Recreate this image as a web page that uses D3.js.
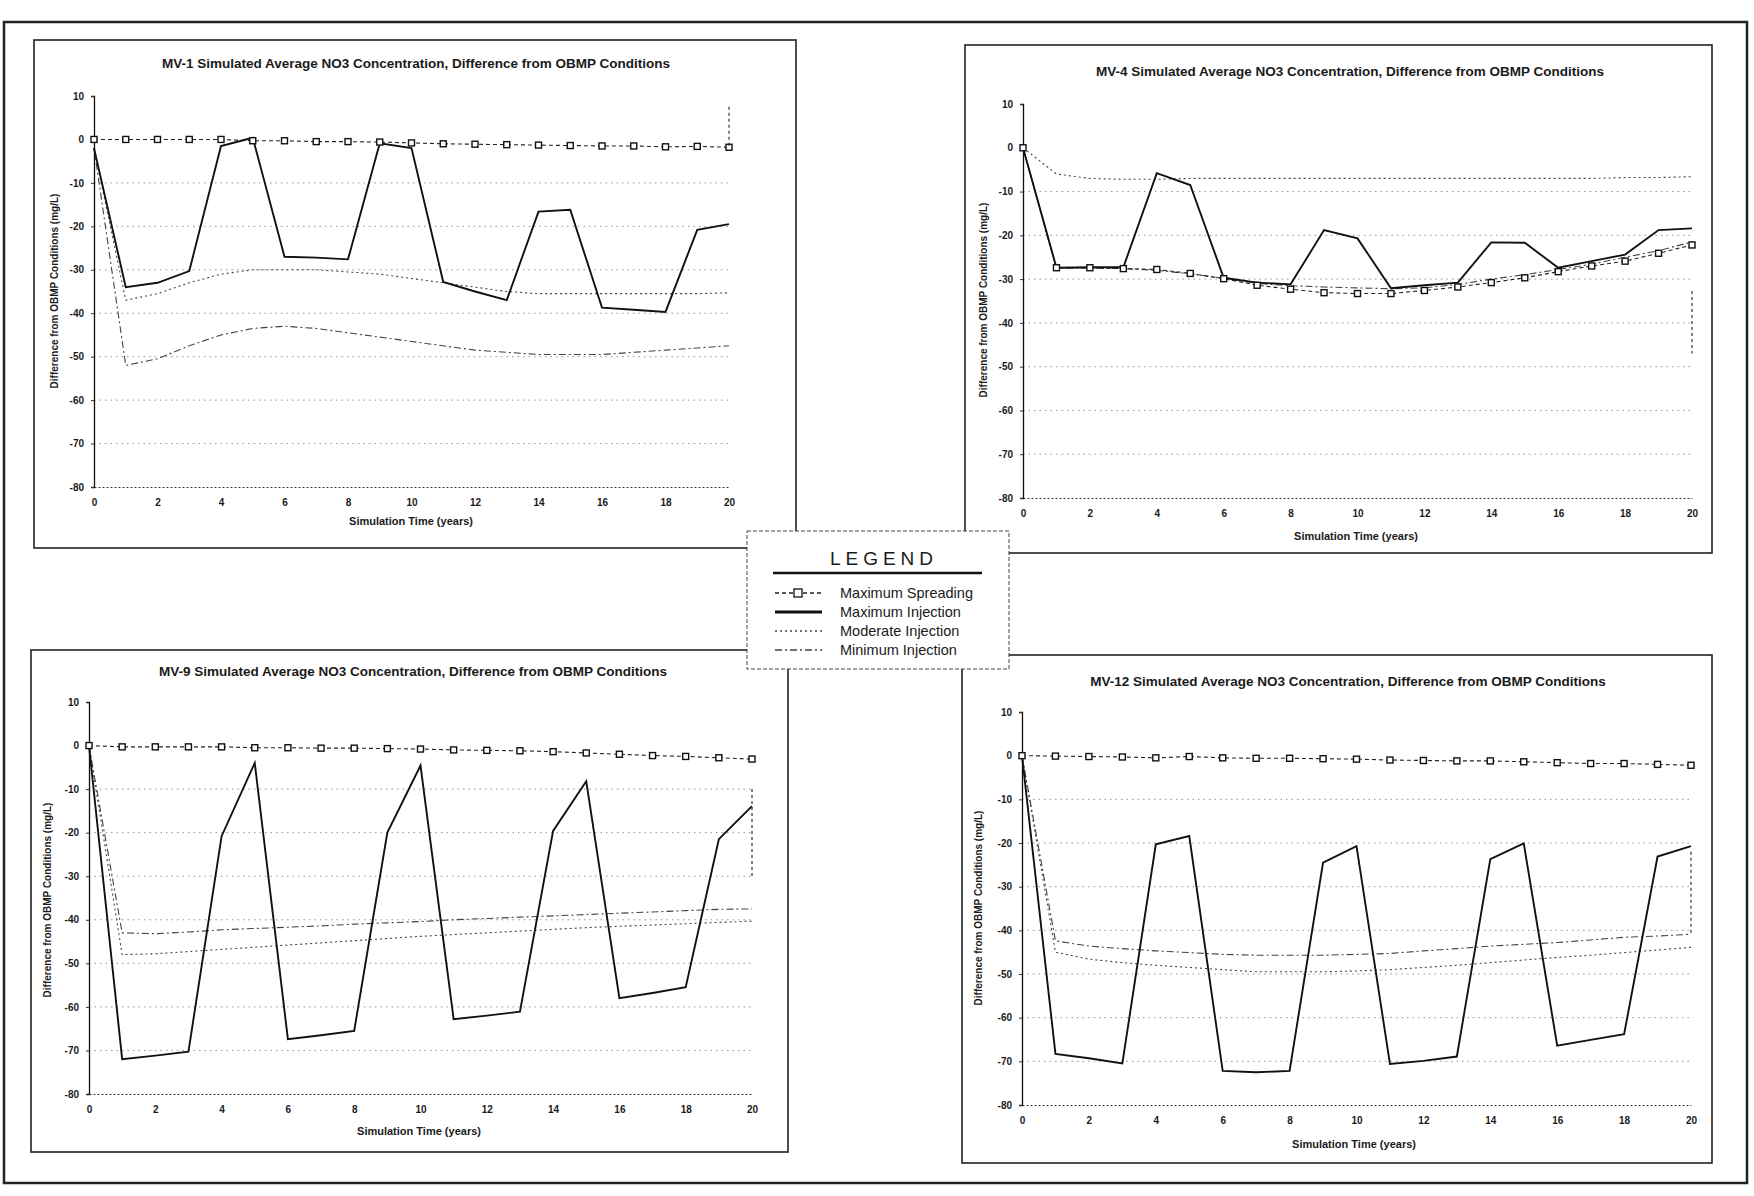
<!DOCTYPE html>
<html>
<head>
<meta charset="utf-8">
<script src="https://cdn.jsdelivr.net/npm/d3@7"></script>
<style>
  body { margin: 0; background: #fff; }
  text { font-family: "Liberation Sans", Arial, sans-serif; fill: #1a1a1a; }
</style>
</head>
<body>
<div class="svg"></div>
<script>
// simulation years and axis ticks
var years = [0, 1, 2, 3, 4, 5, 6, 7, 8, 9, 10, 11, 12, 13, 14, 15, 16, 17, 18, 19, 20];
var xTicks = [0, 2, 4, 6, 8, 10, 12, 14, 16, 18, 20];
var yTicks = [10, 0, -10, -20, -30, -40, -50, -60, -70, -80];
var gridValues = [-10, -20, -30, -40, -50, -60, -70];

var seriesNames = ['Maximum Spreading', 'Maximum Injection', 'Moderate Injection', 'Minimum Injection'];

// MV-1
var mv1Spreading = [0, 0, 0, 0, 0, -0.3, -0.3, -0.5, -0.5, -0.6, -0.8, -1.0, -1.1, -1.2, -1.3, -1.4, -1.5, -1.5, -1.7, -1.6, -1.8];
var mv1MaxInj = [-2, -34, -33, -30.3, -1.5, 0.4, -27, -27.2, -27.6, -0.9, -2, -32.8, -35, -37, -16.6, -16.2, -38.7, -39.2, -39.7, -20.8, -19.5];
var mv1ModInj = [-2, -37, -35.5, -33, -31, -30, -30, -30, -30.5, -31, -32, -33, -34, -35, -35.5, -35.5, -35.5, -35.5, -35.5, -35.5, -35.3];
var mv1MinInj = [-2, -52, -50.5, -47.5, -45, -43.5, -43, -43.5, -44.5, -45.5, -46.5, -47.5, -48.5, -49, -49.5, -49.5, -49.5, -49, -48.5, -48, -47.5];
var mv1EndBar = [7.5, -2];

// MV-4
var mv4Spreading = [0, -27.4, -27.4, -27.6, -27.8, -28.7, -29.9, -31.4, -32.3, -33.1, -33.3, -33.3, -32.6, -31.8, -30.8, -29.7, -28.3, -27, -25.9, -24.1, -22.2];
var mv4MaxInj = [0, -27.4, -27.3, -27.3, -5.8, -8.5, -29.7, -30.8, -31.2, -18.8, -20.7, -32.1, -31.4, -30.8, -21.6, -21.7, -27.4, -25.9, -24.4, -18.8, -18.4];
var mv4ModInj = [0, -6, -7, -7.2, -7.2, -7, -7, -7, -7, -7, -7, -7, -7, -7, -7, -7, -7, -7, -6.8, -6.8, -6.6];
var mv4MinInj = [0, -27.5, -27.5, -27.6, -28, -28.8, -29.8, -31, -31.5, -31.8, -32, -32.2, -32, -31.2, -30, -29, -27.8, -26.6, -25, -23.5, -21.5];
var mv4EndBar = [-32.7, -47];

// MV-9
var mv9Spreading = [0, -0.3, -0.3, -0.3, -0.3, -0.5, -0.5, -0.6, -0.6, -0.7, -0.8, -1.0, -1.1, -1.2, -1.4, -1.7, -2.0, -2.3, -2.5, -2.8, -3.1];
var mv9MaxInj = [0, -72, -71.2, -70.3, -20.8, -4, -67.4, -66.5, -65.5, -20, -4.6, -62.8, -62, -61.1, -19.6, -8.2, -58, -56.8, -55.5, -21.5, -13.9];
var mv9ModInj = [0, -48, -47.8, -47.3, -46.8, -46.3, -45.8, -45.3, -44.8, -44.3, -43.8, -43.4, -43, -42.6, -42.2, -41.8, -41.5, -41.2, -40.9, -40.6, -40.3];
var mv9MinInj = [0, -43, -43.2, -42.8, -42.3, -42, -41.7, -41.4, -41, -40.7, -40.4, -40, -39.7, -39.4, -39.1, -38.8, -38.5, -38.2, -37.9, -37.6, -37.5];
var mv9EndBar = [-10, -30];

// MV-12
var mv12Spreading = [0, -0.1, -0.2, -0.3, -0.5, -0.2, -0.5, -0.6, -0.6, -0.7, -0.8, -1.0, -1.1, -1.2, -1.2, -1.4, -1.6, -1.8, -1.8, -2.0, -2.2];
var mv12MaxInj = [0, -68.3, -69.3, -70.5, -20.3, -18.4, -72.2, -72.5, -72.2, -24.5, -20.7, -70.6, -69.9, -68.9, -23.7, -20.1, -66.4, -65.1, -63.8, -23.1, -20.7];
var mv12ModInj = [0, -45, -46.6, -47.4, -48, -48.5, -49, -49.5, -49.5, -49.5, -49.3, -49, -48.5, -48, -47.4, -46.8, -46.2, -45.7, -45.1, -44.5, -43.9];
var mv12MinInj = [0, -42.4, -43.6, -44.2, -44.7, -45.1, -45.5, -45.7, -45.7, -45.7, -45.5, -45.3, -44.7, -44.2, -43.6, -43.2, -42.8, -42.2, -41.6, -41.3, -40.9];
var mv12EndBar = [-22, -41];

var width = 1754, height = 1196;

var panels = [
    { well: 'MV-1', frame: [34, 40, 796, 548], plot: [94, 96, 729, 487], title: [416, 68], xt: [411, 525], yt: [58, 291],
      data: [mv1Spreading, mv1MaxInj, mv1ModInj, mv1MinInj], endBar: mv1EndBar },
    { well: 'MV-4', frame: [965, 45, 1712, 553], plot: [1023, 104, 1692, 498], title: [1350, 76], xt: [1356, 540], yt: [987, 300],
      data: [mv4Spreading, mv4MaxInj, mv4ModInj, mv4MinInj], endBar: mv4EndBar },
    { well: 'MV-9', frame: [31, 650, 788, 1152], plot: [89, 702, 752, 1094], title: [413, 676], xt: [419, 1135], yt: [51, 900],
      data: [mv9Spreading, mv9MaxInj, mv9ModInj, mv9MinInj], endBar: mv9EndBar },
    { well: 'MV-12', frame: [962, 655, 1712, 1163], plot: [1022, 712, 1691, 1105], title: [1348, 686], xt: [1354, 1148], yt: [982, 908],
      data: [mv12Spreading, mv12MaxInj, mv12ModInj, mv12MinInj], endBar: mv12EndBar }
];

// line look per series (spreading, max, moderate, minimum)
var styles = [
    { stroke: '#222', width: 1.1, dash: '4,3' },
    { stroke: '#111', width: 1.9, dash: null },
    { stroke: '#444', width: 1.1, dash: '2,3' },
    { stroke: '#444', width: 1.1, dash: '7,3,2,3' }
];

var svg = d3.select('div.svg')
    .append('svg')
    .attr('width', width)
    .attr('height', height);

svg.append('rect').attr('width', width).attr('height', height).attr('fill', '#fff');

// page border
svg.append('rect')
    .attr('x', 4).attr('y', 22).attr('width', 1743).attr('height', 1161)
    .attr('fill', 'none').attr('stroke', '#222').attr('stroke-width', 2.5);

panels.forEach(function (p) {
    var g = svg.append('g');

    g.append('rect')
        .attr('x', p.frame[0]).attr('y', p.frame[1])
        .attr('width', p.frame[2] - p.frame[0]).attr('height', p.frame[3] - p.frame[1])
        .attr('fill', '#fff').attr('stroke', '#222').attr('stroke-width', 1.6);

    var x = d3.scaleLinear().domain([0, 20]).range([p.plot[0], p.plot[2]]);
    var y = d3.scaleLinear().domain([-80, 10]).range([p.plot[3], p.plot[1]]);

    // dotted grid
    g.selectAll('.grid')
        .data(gridValues)
        .enter()
        .append('line')
        .attr('x1', x(0)).attr('x2', x(20))
        .attr('y1', d => y(d)).attr('y2', d => y(d))
        .attr('stroke', '#888').attr('stroke-width', 0.9)
        .attr('stroke-dasharray', '1.5,4');

    // x axis (dotted in the scan)
    var xa = g.append('g')
        .attr('transform', 'translate(0,' + y(-80) + ')')
        .call(d3.axisBottom(x).tickValues(xTicks).tickSize(0).tickPadding(12).tickFormat(d => String(d)));
    xa.select('.domain').attr('stroke', '#333').attr('stroke-dasharray', '2,2');
    xa.selectAll('text').style('font-size', '10px').style('font-weight', 'bold').attr('fill', '#222');

    var ya = g.append('g')
        .attr('transform', 'translate(' + x(0) + ',0)')
        .call(d3.axisLeft(y).tickValues(yTicks).tickSize(3).tickPadding(7).tickFormat(d => String(d)));
    ya.select('.domain').attr('stroke', '#111').attr('stroke-width', 1.3);
    ya.selectAll('.tick line').attr('stroke', '#333');
    ya.selectAll('text').style('font-size', '10px').style('font-weight', 'bold').attr('fill', '#222');

    // titles
    g.append('text')
        .attr('x', p.title[0]).attr('y', p.title[1])
        .attr('text-anchor', 'middle')
        .style('font-size', '13.5px').style('font-weight', 'bold')
        .text(p.well + ' Simulated Average NO3 Concentration, Difference from OBMP Conditions');

    g.append('text')
        .attr('x', p.xt[0]).attr('y', p.xt[1])
        .attr('text-anchor', 'middle')
        .style('font-size', '11px').style('font-weight', 'bold')
        .text('Simulation Time (years)');

    g.append('text')
        .attr('transform', 'translate(' + p.yt[0] + ',' + p.yt[1] + ') rotate(-90)')
        .attr('text-anchor', 'middle')
        .style('font-size', '10px').style('font-weight', 'bold')
        .text('Difference from OBMP Conditions (mg/L)');

    var line = d3.line()
        .x((d, i) => x(years[i]))
        .y(d => y(d));

    // draw minimum, moderate, spreading, then max injection on top
    [3, 2, 0, 1].forEach(function (k) {
        var s = styles[k];
        g.append('path')
            .datum(p.data[k])
            .attr('d', line)
            .attr('fill', 'none')
            .attr('stroke', s.stroke)
            .attr('stroke-width', s.width)
            .attr('stroke-dasharray', s.dash);
    });

    g.selectAll('.sq')
        .data(p.data[0])
        .enter()
        .append('rect')
        .attr('x', (d, i) => x(years[i]) - 3)
        .attr('y', d => y(d) - 3)
        .attr('width', 6).attr('height', 6)
        .attr('fill', '#fff').attr('stroke', '#111').attr('stroke-width', 1.4);

    // dashed mark at the end of the record
    g.append('line')
        .attr('x1', x(20)).attr('x2', x(20))
        .attr('y1', y(p.endBar[0])).attr('y2', y(p.endBar[1]))
        .attr('stroke', '#333').attr('stroke-width', 1.2)
        .attr('stroke-dasharray', '3,3');
});

// legend
var lg = svg.append('g');
lg.append('rect')
    .attr('x', 747).attr('y', 531).attr('width', 262).attr('height', 138)
    .attr('fill', '#fff').attr('stroke', '#444').attr('stroke-width', 1)
    .attr('stroke-dasharray', '4,2');
lg.append('text')
    .attr('x', 884).attr('y', 565)
    .attr('text-anchor', 'middle')
    .style('font-size', '19px').style('letter-spacing', '5px')
    .text('LEGEND');
lg.append('line')
    .attr('x1', 773).attr('x2', 982).attr('y1', 573).attr('y2', 573)
    .attr('stroke', '#111').attr('stroke-width', 2.5);

seriesNames.forEach(function (name, k) {
    var yy = 593 + k * 19;
    var s = styles[k];
    lg.append('line')
        .attr('x1', 775).attr('x2', 822).attr('y1', yy).attr('y2', yy)
        .attr('stroke', s.stroke).attr('stroke-width', k == 1 ? 3 : s.width + 0.4)
        .attr('stroke-dasharray', s.dash);
    if (k == 0) {
        lg.append('rect')
            .attr('x', 794).attr('y', yy - 4).attr('width', 8).attr('height', 8)
            .attr('fill', '#fff').attr('stroke', '#111').attr('stroke-width', 1.3);
    }
    lg.append('text')
        .attr('x', 840).attr('y', yy + 5)
        .style('font-size', '14.5px')
        .text(name);
});
</script>
</body>
</html>
